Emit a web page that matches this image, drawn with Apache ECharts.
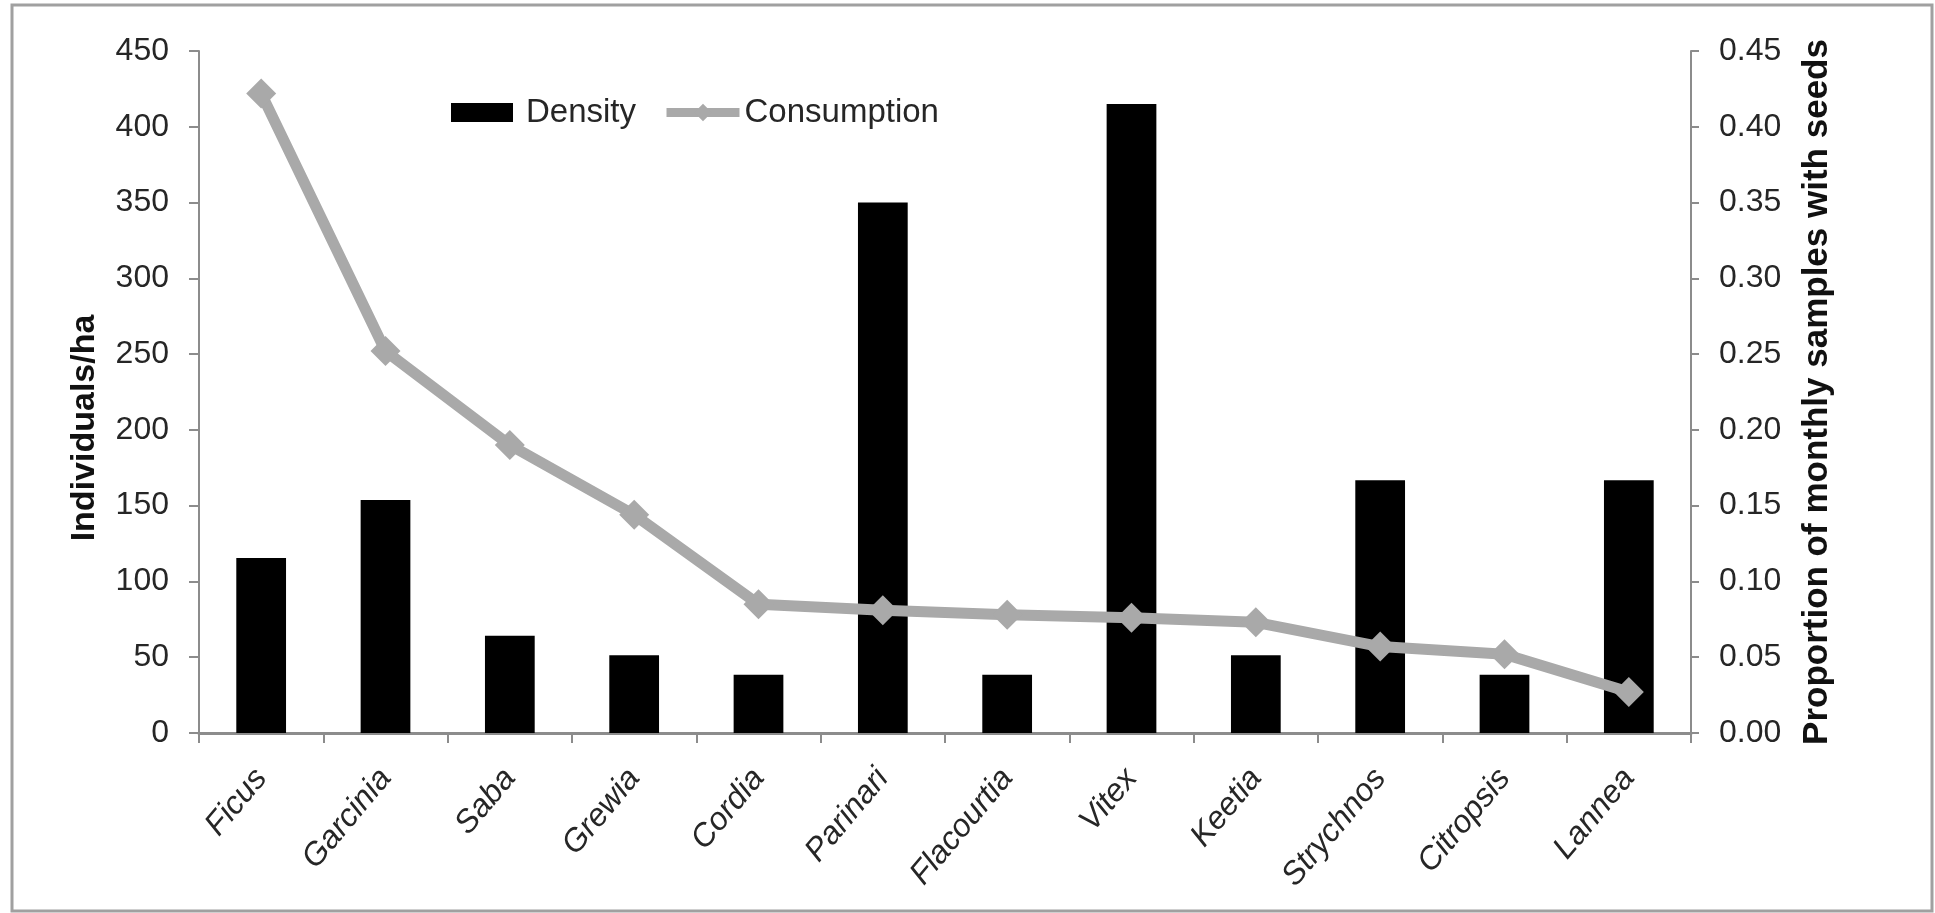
<!DOCTYPE html>
<html>
<head>
<meta charset="utf-8">
<script src="https://cdn.jsdelivr.net/npm/echarts@6/dist/echarts.min.js"></script>
<style>
  html, body { margin: 0; padding: 0; background: #fff; }
  #chart { width: 1935px; height: 913px; }
</style>
</head>
<body>
<div id="chart"></div>
<script>
// Genera, tree density and frequency in monthly dung samples
const genera = ['Ficus', 'Garcinia', 'Saba', 'Grewia', 'Cordia', 'Parinari',
                'Flacourtia', 'Vitex', 'Keetia', 'Strychnos', 'Citropsis', 'Lannea'];
const density = [115.4, 153.8, 64.1, 51.3, 38.5, 350, 38.5, 415, 51.3, 166.7, 38.5, 166.7];
const consumption = [0.422, 0.252, 0.19, 0.144, 0.085, 0.081, 0.078, 0.076, 0.073, 0.057, 0.052, 0.027];

const FONT = 'Liberation Sans, Arial, sans-serif';
const AXIS_GREY = '#8c8c8c';
const LINE_GREY = '#a9a9a9';
const TEXT = '#262626';

const chart = echarts.init(document.getElementById('chart'), null, { renderer: 'canvas' });

chart.setOption({
  backgroundColor: '#fff',
  animation: false,
  textStyle: { fontFamily: FONT },
  graphic: [{
    type: 'rect',
    shape: { x: 12, y: 5, width: 1920, height: 906 },
    style: { fill: 'none', stroke: '#a0a0a0', lineWidth: 3 },
    silent: true
  }],
  legend: [{
    data: ['Density'],
    left: 446, top: 91,
    itemWidth: 62, itemHeight: 19,
    icon: 'rect',
    textStyle: { fontFamily: FONT, fontSize: 33, color: TEXT, padding: [0, 0, 0, 8] }
  }, {
    data: ['Consumption'],
    left: 657, top: 91,
    itemWidth: 73, itemHeight: 22,
    lineStyle: { width: 9 },
    textStyle: { fontFamily: FONT, fontSize: 33, color: TEXT }
  }],
  grid: { left: 199, right: 244, top: 51, bottom: 180, containLabel: false },
  xAxis: {
    type: 'category',
    data: genera,
    axisLine: { lineStyle: { color: AXIS_GREY, width: 3 } },
    axisTick: { show: true, alignWithLabel: false, length: 10, lineStyle: { color: AXIS_GREY, width: 2 } },
    axisLabel: {
      rotate: 50, margin: 40, interval: 0,
      fontFamily: FONT, fontSize: 32, fontStyle: 'italic', color: TEXT
    }
  },
  yAxis: [{
    type: 'value',
    min: 0, max: 450, interval: 50,
    name: 'Individuals/ha',
    nameLocation: 'middle',
    nameGap: 97,
    nameRotate: 90,
    nameTextStyle: {
      fontFamily: FONT, fontSize: 34, fontWeight: 'bold', color: '#111',
      padding: [0, 72, 0, 0]
    },
    axisLine: { show: true, lineStyle: { color: AXIS_GREY, width: 2 } },
    axisTick: { show: true, length: 10, lineStyle: { color: AXIS_GREY, width: 2 } },
    axisLabel: { margin: 30, fontFamily: FONT, fontSize: 32, color: TEXT },
    splitLine: { show: false }
  }, {
    type: 'value',
    min: 0, max: 0.45, interval: 0.05,
    position: 'right',
    name: 'Proportion of monthly samples with seeds',
    nameLocation: 'middle',
    nameGap: 109,
    nameRotate: 90,
    nameTextStyle: { fontFamily: FONT, fontSize: 35, fontWeight: 'bold', color: '#111' },
    axisLine: { show: true, lineStyle: { color: AXIS_GREY, width: 2 } },
    axisTick: { show: true, length: 8, lineStyle: { color: AXIS_GREY, width: 2 } },
    axisLabel: {
      margin: 28, fontFamily: FONT, fontSize: 32, color: TEXT,
      formatter: v => v.toFixed(2)
    },
    splitLine: { show: false }
  }],
  series: [{
    name: 'Density',
    type: 'bar',
    yAxisIndex: 0,
    data: density,
    barWidth: '40%',
    itemStyle: { color: '#000' }
  }, {
    name: 'Consumption',
    type: 'line',
    yAxisIndex: 1,
    data: consumption,
    symbol: 'diamond',
    symbolSize: 30,
    lineStyle: { color: LINE_GREY, width: 11 },
    itemStyle: { color: LINE_GREY },
    z: 5
  }]
});
</script>
</body>
</html>
